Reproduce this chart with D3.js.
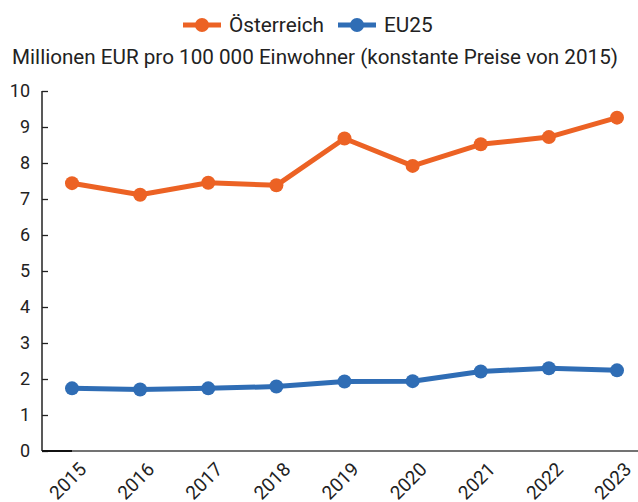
<!DOCTYPE html>
<html><head><meta charset="utf-8">
<script src="https://cdn.jsdelivr.net/npm/d3@7"></script>
<style>body{margin:0;background:#fff}svg{display:block}text{font-family:Roboto,"Noto Sans",sans-serif;fill:#222}</style>
</head><body><svg id="c" width="638" height="502"></svg>
<script>
const years = ["2015","2016","2017","2018","2019","2020","2021","2022","2023"];
const austria = [7.44, 7.12, 7.45, 7.38, 8.68, 7.92, 8.52, 8.72, 9.26];
const eu25 = [1.74, 1.71, 1.74, 1.79, 1.93, 1.94, 2.21, 2.30, 2.24];
const yTicks = [0,1,2,3,4,5,6,7,8,9,10];
const seriesNames = ["Österreich","EU25"];
const colors = ["#EC6224","#2F6DB5"];
const subtitle = "Millionen EUR pro 100 000 Einwohner (konstante Preise von 2015)";

const svg = d3.select("#c");
const axisX = 42, plotTop = 91, plotBottom = 451;
const x = d3.scalePoint().domain(years).range([72, 617]);
const y = d3.scaleLinear().domain([0,10]).range([plotBottom, plotTop]);

function fitSize(sel, base, target){
  return base*target/sel.node().getComputedTextLength();
}

// y axis
const ya = svg.append("g").attr("transform",`translate(${axisX},0)`)
  .call(d3.axisLeft(y).tickValues(yTicks).tickSize(-6).tickPadding(12).tickFormat(d3.format("d")));
ya.select(".domain").attr("stroke","#222").attr("stroke-width",1.5).attr("d",`M0,${plotTop}V${plotBottom}`);
ya.selectAll(".tick line").attr("stroke","#222").attr("stroke-width",1.3);
ya.selectAll(".tick text").style("font-size","18px").attr("fill","#222");

// x axis line
svg.append("line").attr("x1",axisX).attr("x2",638).attr("y1",plotBottom).attr("y2",plotBottom)
  .attr("stroke","#444").attr("stroke-width",1.5);
svg.append("line").attr("x1",axisX).attr("x2",x(years[0])).attr("y1",plotBottom).attr("y2",plotBottom)
  .attr("stroke","#111").attr("stroke-width",2);
// x labels
svg.append("g").selectAll("text").data(years).join("text")
  .attr("transform",d=>`translate(${x(d)+6},${plotBottom+10}) rotate(-45)`)
  .attr("text-anchor","end").attr("dy","0.71em").style("font-size","19px").text(d=>d);

const data = [austria, eu25];
const line = d3.line().x((d,i)=>x(years[i])).y(d=>y(d));
data.forEach((vals,k)=>{
  const g = svg.append("g");
  g.append("path").attr("d",line(vals)).attr("fill","none").attr("stroke",colors[k])
    .attr("stroke-width",5).attr("stroke-linejoin","round");
  g.selectAll("circle").data(vals).join("circle")
    .attr("cx",(d,i)=>x(years[i])).attr("cy",d=>y(d)).attr("r",7).attr("fill",colors[k]);
});

// legend
const legX = [183, 338];
let legSize = 18;
seriesNames.forEach((n,k)=>{
  const g = svg.append("g").attr("transform",`translate(${legX[k]},25)`);
  g.append("line").attr("x1",0).attr("x2",38).attr("stroke",colors[k]).attr("stroke-width",5);
  g.append("circle").attr("cx",19).attr("r",7).attr("fill",colors[k]);
  const t = g.append("text").attr("x",46).attr("dy","0.35em").style("font-size","18px").text(n);
  if(k===0) legSize = fitSize(t, 18, 95);
  t.style("font-size",legSize.toFixed(2)+"px");
});

// subtitle
const st = svg.append("text").attr("x",315).attr("y",57).attr("dy","0.35em").attr("text-anchor","middle")
  .style("font-size","18px").text(subtitle);
st.style("font-size",fitSize(st,18,606).toFixed(2)+"px");
</script></body></html>
